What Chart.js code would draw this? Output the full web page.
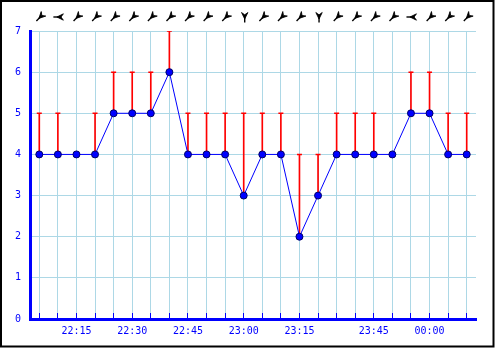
<!DOCTYPE html>
<html>
<head>
<meta charset="utf-8">
<script src="https://cdn.jsdelivr.net/npm/chart.js@4/dist/chart.umd.min.js"></script>
<style>
  html, body { margin: 0; padding: 0; background: #fff; }
  #wrap { width: 495px; height: 348px; }
</style>
</head>
<body>
<div id="wrap"><canvas id="chart" width="495" height="348"></canvas></div>
<script>
// sample times (5 min readings, a couple missing after 23:25)
const times = ['22:05', '22:10', '22:15', '22:20', '22:25', '22:30', '22:35', '22:40', '22:45', '22:50',
  '22:55', '23:00', '23:05', '23:10', '23:15', '23:20', '23:25', '23:40', '23:45', '23:50',
  '23:55', '00:00', '00:05', '00:10'];
// mean wind speed
const speed = [4, 4, 4, 4, 5, 5, 5, 6, 4, 4, 4, 3, 4, 4, 2, 3, 4, 4, 4, 4, 5, 5, 4, 4];
// gusts
const gust = [5, 5, 4, 5, 6, 6, 6, 7, 5, 5, 5, 5, 5, 5, 4, 4, 5, 5, 5, 4, 6, 6, 5, 5];
// wind direction (degrees, where it blows from)
const direction = [45, 90, 45, 45, 45, 45, 45, 45, 45, 45, 45, 0, 45, 45, 45, 0, 45, 45, 45, 45, 90, 45, 45, 45];
const yTicks = [0, 1, 2, 3, 4, 5, 6, 7];

const BLUE = '#0000ff';
const GRID = '#add8e6';
const RED = '#ff0000';

const gustBars = speed.map((s, i) => gust[i] > s ? [s, gust[i]] : null);
const gustCaps = speed.map((s, i) => gust[i] > s ? gust[i] : null);

const frame = {
  id: 'frame',
  beforeDraw(chart) {
    const ctx = chart.ctx;
    ctx.save();
    ctx.fillStyle = '#fff';
    ctx.fillRect(0, 0, chart.width, chart.height);
    ctx.strokeStyle = '#000';
    ctx.lineWidth = 2;
    ctx.strokeRect(1, 1, chart.width - 2.5, chart.height - 2.5);
    ctx.restore();
  }
};

// little wind arrows above the plot
const windArrows = {
  id: 'windArrows',
  afterDatasetsDraw(chart) {
    const ctx = chart.ctx;
    const x = chart.scales.x;
    const y = chart.chartArea.top - 14;
    ctx.save();
    ctx.fillStyle = '#000';
    ctx.strokeStyle = '#000';
    direction.forEach((d, i) => {
      ctx.save();
      ctx.translate(x.getPixelForValue(i) + 1, y);
      ctx.rotate(d * Math.PI / 180);
      ctx.lineWidth = 1.4;
      ctx.beginPath();
      ctx.moveTo(0, 5.5);
      ctx.lineTo(0, -1);
      ctx.stroke();
      ctx.lineWidth = 0.8;
      ctx.beginPath();
      ctx.moveTo(0, 2);
      ctx.lineTo(-3.2, -4.5);
      ctx.lineTo(0, -2.2);
      ctx.lineTo(3.2, -4.5);
      ctx.closePath();
      ctx.fill();
      ctx.stroke();
      ctx.restore();
    });
    ctx.restore();
  }
};

new Chart(document.getElementById('chart'), {
  type: 'bar',
  data: {
    labels: times,
    datasets: [{
      type: 'line',
      label: 'Wind',
      data: speed,
      borderColor: BLUE,
      borderWidth: 1,
      pointRadius: 3.5,
      pointBackgroundColor: BLUE,
      pointBorderColor: '#000066',
      pointBorderWidth: 1,
      tension: 0,
      order: 0
    }, {
      type: 'line',
      label: 'Gust cap',
      data: gustCaps,
      showLine: false,
      pointStyle: 'line',
      pointRadius: 2.5,
      pointBorderColor: RED,
      pointBorderWidth: 1.5,
      order: 1
    }, {
      label: 'Gust',
      data: gustBars,
      backgroundColor: RED,
      barThickness: 1,
      order: 2
    }]
  },
  options: {
    responsive: false,
    animation: false,
    events: [],
    layout: { padding: { left: 0, top: 31, right: 19, bottom: 0 } },
    plugins: {
      legend: { display: false },
      tooltip: { enabled: false }
    },
    scales: {
      x: {
        offset: true,
        afterFit: (scale) => { scale.height = 29; },
        border: { color: BLUE, width: 3 },
        grid: {
          offset: false,
          color: GRID,
          lineWidth: 1,
          tickColor: BLUE,
          tickLength: -6
        },
        ticks: {
          autoSkip: false,
          maxRotation: 0,
          padding: 12,
          color: BLUE,
          font: { family: 'DejaVu Sans Mono', size: 10 },
          callback: function (val, i) {
            const t = times[i];
            return Number(t.split(':')[1]) % 15 === 0 ? t : '';
          }
        }
      },
      y: {
        min: yTicks[0],
        max: yTicks[yTicks.length - 1],
        afterFit: (scale) => { scale.width = 30; },
        afterBuildTicks: (scale) => { scale.ticks = yTicks.map(v => ({ value: v })); },
        border: { color: BLUE, width: 3 },
        grid: { color: GRID, lineWidth: 1, drawTicks: false },
        ticks: {
          padding: 9,
          color: BLUE,
          font: { family: 'DejaVu Sans Mono', size: 10 }
        }
      }
    }
  },
  plugins: [frame, windArrows]
});
</script>
</body>
</html>
